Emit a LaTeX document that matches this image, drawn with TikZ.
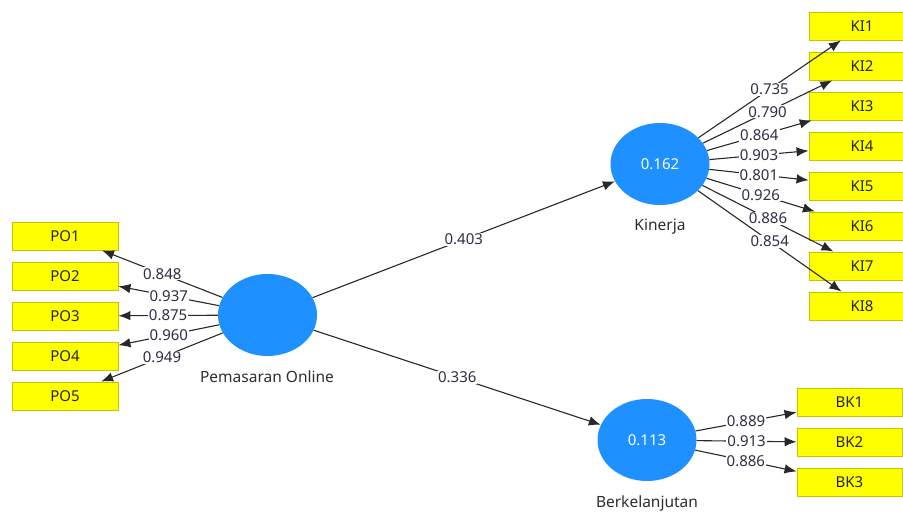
\documentclass[tikz,border=0pt]{standalone}
\usepackage{fontspec}
\setmainfont{Noto Sans}
\usetikzlibrary{shapes.geometric,arrows.meta}
\definecolor{lvblue}{RGB}{30,144,255}
\definecolor{boxyel}{RGB}{255,255,0}
\definecolor{boxedge}{RGB}{196,196,0}
\definecolor{linegray}{RGB}{40,40,40}
\definecolor{numcol}{RGB}{50,45,70}
\definecolor{txtcol}{RGB}{45,45,45}
\tikzset{
  x=1pt, y=-1pt,
  indbox/.style={draw=boxedge, line width=0.9pt, fill=boxyel, minimum width=106pt, minimum height=28pt, inner sep=0pt, font=\fontsize{15}{17}\selectfont, text=black!85},
  latent/.style={ellipse, fill=lvblue, minimum width=99pt, minimum height=82pt, inner sep=0pt, text=white, font=\fontsize{15}{17}\selectfont},
  lvname/.style={text=txtcol, inner sep=0pt, font=\fontsize{15.5}{17}\selectfont},
  conn/.style={draw=linegray, line width=1.1pt, -{Latex[length=12pt,width=9.5pt]}},
  wt/.style={fill=white, inner sep=1pt, text=numcol, font=\fontsize{15}{17}\selectfont, midway}
}
\begin{document}
\begin{tikzpicture}
\useasboundingbox (0,0) rectangle (903,513);
% latent variables
\node[latent] (po) at (267.5,315) {};
\node[latent] (ki) at (660,164) {0.162};
\node[latent] (bk) at (647,440) {0.113};
\node[lvname] (polab) at (267,377) {Pemasaran Online};
\node[lvname] (kilab) at (660,227) {Kinerja};
\node[lvname] (bklab) at (647,503) {Berkelanjutan};
% indicators
\node[indbox] (po1) at (65,236) {PO1};
\node[indbox] (po2) at (65,276) {PO2};
\node[indbox] (po3) at (65,316) {PO3};
\node[indbox] (po4) at (65,356) {PO4};
\node[indbox] (po5) at (65,396) {PO5};
\node[indbox] (ki1) at (862,26) {KI1};
\node[indbox] (ki2) at (862,66) {KI2};
\node[indbox] (ki3) at (862,106) {KI3};
\node[indbox] (ki4) at (862,146) {KI4};
\node[indbox] (ki5) at (862,186) {KI5};
\node[indbox] (ki6) at (862,226) {KI6};
\node[indbox] (ki7) at (862,266) {KI7};
\node[indbox] (ki8) at (862,306) {KI8};
\node[indbox, minimum width=105pt] (bk1) at (849.5,402.5) {BK1};
\node[indbox, minimum width=105pt] (bk2) at (849.5,442.5) {BK2};
\node[indbox, minimum width=105pt] (bk3) at (849.5,482.5) {BK3};
% structural paths
\draw[conn] (po) -- (ki) node[wt] {0.403};
\draw[conn] (po) -- (bk) node[wt] {0.336};
% outer loadings
\draw[conn] (po) -- (po1) node[wt] {0.848};
\draw[conn] (po) -- (po2) node[wt] {0.937};
\draw[conn] (po) -- (po3) node[wt] {0.875};
\draw[conn] (po) -- (po4) node[wt] {0.960};
\draw[conn] (po) -- (po5) node[wt] {0.949};
\draw[conn] (ki) -- (ki1) node[wt] {0.735};
\draw[conn] (ki) -- (ki2) node[wt] {0.790};
\draw[conn] (ki) -- (ki3) node[wt] {0.864};
\draw[conn] (ki) -- (ki4) node[wt] {0.903};
\draw[conn] (ki) -- (ki5) node[wt] {0.801};
\draw[conn] (ki) -- (ki6) node[wt] {0.926};
\draw[conn] (ki) -- (ki7) node[wt] {0.886};
\draw[conn] (ki) -- (ki8) node[wt] {0.854};
\draw[conn] (bk) -- (bk1) node[wt] {0.889};
\draw[conn] (bk) -- (bk2) node[wt] {0.913};
\draw[conn] (bk) -- (bk3) node[wt] {0.886};
\end{tikzpicture}
\end{document}
